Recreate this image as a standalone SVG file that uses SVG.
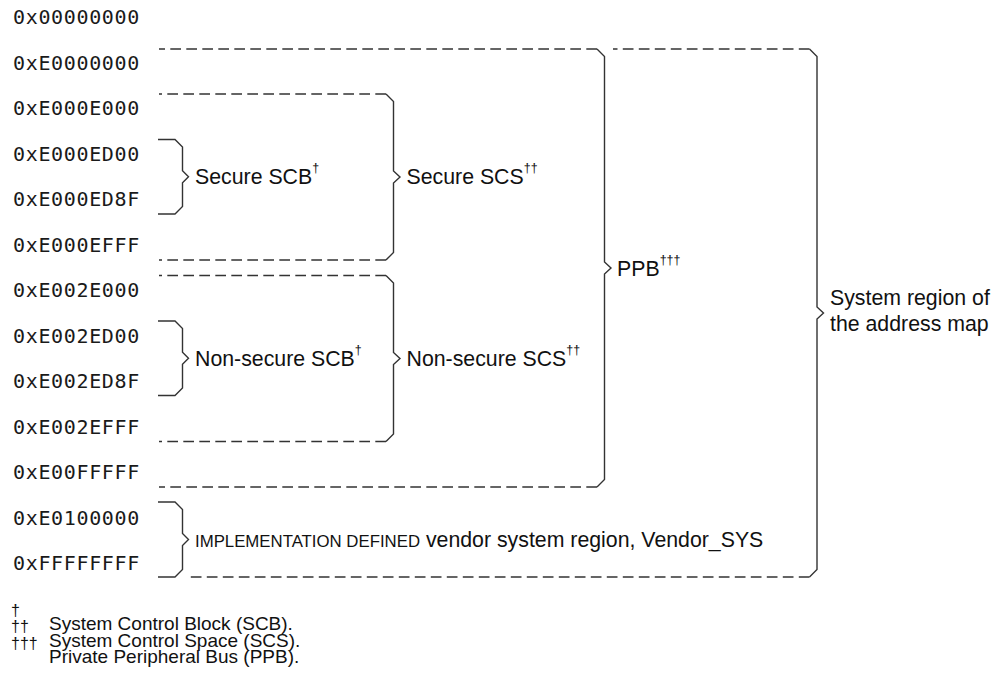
<svg xmlns="http://www.w3.org/2000/svg" width="998" height="684" viewBox="0 0 998 684">
<style>
.addr{font-family:"DejaVu Sans Mono","Liberation Mono",monospace;font-size:20px;letter-spacing:0.65px;fill:#1a1a1a}
.lbl{font-family:"Liberation Sans",Arial,sans-serif;font-size:21.3px;fill:#111}
.sc{font-size:16.8px}
.sup{font-size:12.5px}
.fn{font-family:"Liberation Sans",Arial,sans-serif;font-size:19px;fill:#111}
.fnm{font-family:"Liberation Sans",Arial,sans-serif;font-size:16px;fill:#111}
.br{fill:none;stroke:#333;stroke-width:1.4;stroke-linejoin:miter}
.dash{fill:none;stroke:#333;stroke-width:1.4;stroke-dasharray:10.7 5.3}
</style>
<rect width="998" height="684" fill="#fff"/>
<g id="addresses">
<text class="addr" x="13" y="24">0x00000000</text>
<text class="addr" x="13" y="69.5">0xE0000000</text>
<text class="addr" x="13" y="115">0xE000E000</text>
<text class="addr" x="13" y="160.5">0xE000ED00</text>
<text class="addr" x="13" y="206">0xE000ED8F</text>
<text class="addr" x="13" y="251.5">0xE000EFFF</text>
<text class="addr" x="13" y="297">0xE002E000</text>
<text class="addr" x="13" y="342.5">0xE002ED00</text>
<text class="addr" x="13" y="388">0xE002ED8F</text>
<text class="addr" x="13" y="433.5">0xE002EFFF</text>
<text class="addr" x="13" y="479">0xE00FFFFF</text>
<text class="addr" x="13" y="524.5">0xE0100000</text>
<text class="addr" x="13" y="570">0xFFFFFFFF</text>
</g>
<g id="connectors">
<path class="dash" d="M597,49 H159"/>
<path class="dash" d="M809.5,49 H613"/>
<path class="dash" d="M386,94 H159"/>
<path class="dash" d="M386,260 H159"/>
<path class="dash" d="M386,275.5 H159"/>
<path class="dash" d="M386,441.5 H159"/>
<path class="dash" d="M597,487 H159"/>
<path class="dash" d="M809.5,577 H190"/>
</g>
<g id="secure-scb">
<path class="br" d="M158,139.5 H175 L182.5,147 V170.8 L188.5,176.8 L182.5,182.8 V206.5 L175,214 H158"/>
<text class="lbl" x="195" y="183.5">Secure SCB<tspan class="sup" dy="-12">†</tspan></text>
</g>
<g id="secure-scs">
<path class="br" d="M386,94 L393.5,101.5 V171 L400,177 L393.5,183 V252.5 L386,260"/>
<text class="lbl" x="406.5" y="184">Secure SCS<tspan class="sup" dy="-12">††</tspan></text>
</g>
<g id="nonsecure-scb">
<path class="br" d="M158,321 H175 L182.5,328.5 V352.3 L188.5,358.3 L182.5,364.3 V388 L175,395.5 H158"/>
<text class="lbl" x="195" y="365.5">Non-secure SCB<tspan class="sup" dy="-12">†</tspan></text>
</g>
<g id="nonsecure-scs">
<path class="br" d="M386,275.5 L393.5,283 V352.5 L400,358.5 L393.5,364.5 V434 L386,441.5"/>
<text class="lbl" x="406.5" y="365.5">Non-secure SCS<tspan class="sup" dy="-12">††</tspan></text>
</g>
<g id="ppb">
<path class="br" d="M597,49 L604.5,56.5 V262 L611,268 L604.5,274 V479.5 L597,487"/>
<text class="lbl" x="617" y="275.5">PPB<tspan class="sup" dy="-12">†††</tspan></text>
</g>
<g id="system-region">
<path class="br" d="M809.5,49 L817,56.5 V307 L823.5,313 L817,319 V569.5 L809.5,577"/>
<text class="lbl" x="830" y="305">System region of</text>
<text class="lbl" x="830" y="330.5">the address map</text>
</g>
<g id="vendor-sys">
<path class="br" d="M158,502 H175 L182.5,509.5 V533.5 L188.5,539.5 L182.5,545.5 V569.5 L175,577 H158"/>
<text class="lbl" x="195" y="546.5"><tspan class="sc">IMPLEMENTATION DEFINED</tspan> vendor system region, Vendor_SYS</text>
</g>
<g id="footnotes">
<text class="fnm" x="11" y="615.5">†</text>
<text class="fn" x="49" y="630">System Control Block (SCB).</text>
<text class="fnm" x="11" y="632">††</text>
<text class="fn" x="49" y="646.7">System Control Space (SCS).</text>
<text class="fnm" x="11" y="648.5">†††</text>
<text class="fn" x="49" y="663.3">Private Peripheral Bus (PPB).</text>
</g>
</svg>
